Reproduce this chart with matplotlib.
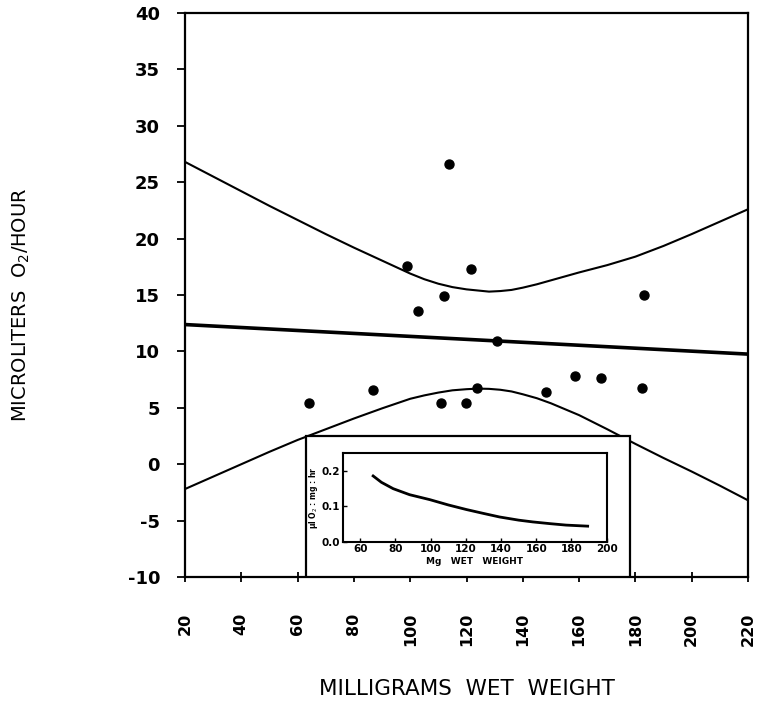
import matplotlib
matplotlib.use("Agg")
from matplotlib import pyplot as plt
from matplotlib.patches import Rectangle

# individual animals: wet weight (mg) vs oxygen uptake (ul O2 / hr)
weight_mg = [64.2, 86.8, 99.0, 102.9, 111.0, 112.1, 113.7, 119.7,
             121.5, 123.8, 130.8, 148.4, 158.7, 167.7, 182.2, 182.9]
uptake_ul = [5.4, 6.6, 17.6, 13.6, 5.4, 14.9, 26.6, 5.4,
             17.3, 6.8, 10.9, 6.4, 7.8, 7.6, 6.8, 15.0]

# fitted regression line
fit_x = [20, 220]
fit_y = [12.38, 9.76]

# confidence limits about the regression
upper_x = [20, 30, 40, 50, 60, 70, 80, 90, 100, 105, 110, 115, 120, 124,
           128, 132, 136, 140, 145, 150, 160, 170, 180, 190, 200, 210, 220]
upper_y = [26.8, 25.5, 24.2, 22.9, 21.65, 20.4, 19.2, 18.05, 16.9, 16.4,
           16.0, 15.7, 15.5, 15.4, 15.3, 15.35, 15.45, 15.65, 15.95, 16.3,
           17.0, 17.65, 18.4, 19.35, 20.4, 21.5, 22.6]
lower_x = [20, 30, 40, 50, 60, 70, 80, 90, 100, 105, 110, 115, 120, 124,
           128, 132, 136, 140, 145, 150, 160, 170, 180, 190, 200, 210, 220]
lower_y = [-2.2, -1.1, 0.0, 1.1, 2.15, 3.1, 4.05, 4.95, 5.8, 6.1, 6.35,
           6.55, 6.65, 6.7, 6.68, 6.6, 6.45, 6.2, 5.85, 5.4, 4.35, 3.1,
           1.8, 0.55, -0.65, -1.9, -3.2]

# inset: weight-specific uptake
inset_x = [67.3, 72, 78.7, 88, 99.5, 110, 120.3, 130, 139.1, 150, 158,
           168, 176.9, 189.2]
inset_y = [0.186, 0.168, 0.150, 0.133, 0.119, 0.104, 0.091, 0.080,
           0.070, 0.061, 0.056, 0.051, 0.047, 0.044]

plt.rcParams['font.family'] = ['DejaVu Sans']

fig = plt.figure(figsize=(7.57, 7.06), dpi=100)
ax = fig.add_axes([0.2444, 0.1827, 0.7437, 0.7989])

ax.plot(upper_x, upper_y, color='black', lw=1.5, zorder=2)
ax.plot(lower_x, lower_y, color='black', lw=1.5, zorder=2)
ax.plot(fit_x, fit_y, color='black', lw=2.6, zorder=2)
ax.scatter(weight_mg, uptake_ul, s=42, color='black', zorder=3)

ax.set_xlim(20, 220)
ax.set_ylim(-10, 40)
ax.set_xticks(range(20, 221, 20))
ax.set_yticks(range(-10, 41, 5))
ax.set_yticklabels([str(v) for v in range(-10, 41, 5)],
                   fontweight='bold', fontsize=13)
ax.set_xticklabels([str(v) for v in range(20, 221, 20)],
                   rotation=90, fontweight='bold', fontsize=11.5, va='top')
ax.tick_params(axis='y', direction='out', length=6, width=1.3, pad=12)
ax.tick_params(axis='x', direction='inout', length=7, width=1.3, pad=22)
for sp in ax.spines.values():
    sp.set_linewidth(1.6)

ax.set_ylabel('MICROLITERS  O$_2$/HOUR', fontsize=14)
ax.yaxis.set_label_coords(-0.272, 0.482)
ax.set_xlabel('MILLIGRAMS  WET  WEIGHT', fontsize=15.5)
ax.xaxis.set_label_coords(0.5, -0.18)

# white panel holding the inset
ax.add_patch(Rectangle((0.215, 0.0), 0.575, 0.25, transform=ax.transAxes,
                       facecolor='white', edgecolor='black', lw=1.6,
                       zorder=4))

ins = fig.add_axes([0.4527, 0.2327, 0.3487, 0.1252], zorder=5)
ins.plot(inset_x, inset_y, color='black', lw=2.0)
ins.set_xlim(50, 200)
ins.set_ylim(0, 0.25)
ins.set_xticks(range(60, 201, 20))
ins.set_yticks([0.0, 0.1, 0.2])
ins.set_yticklabels(['0.0', '0.1', '0.2'], fontweight='bold', fontsize=7.5)
ins.set_xticklabels([str(v) for v in range(60, 201, 20)],
                    fontweight='bold', fontsize=7.5)
ins.tick_params(direction='in', length=3, width=1.0, pad=2)
for sp in ins.spines.values():
    sp.set_linewidth(1.5)
ins.set_xlabel('Mg   WET   WEIGHT', fontsize=6.5, fontweight='bold',
               labelpad=2)
ins.set_ylabel('\u00b5l O$_2$ : mg : hr', fontsize=5.5, fontweight='bold',
               labelpad=1)

fig.savefig('out.png', dpi=100)
